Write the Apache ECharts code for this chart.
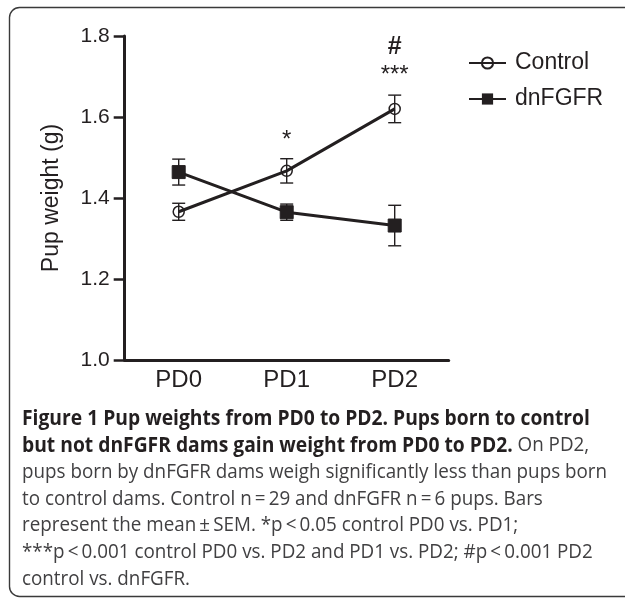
<!DOCTYPE html>
<html>
<head>
<meta charset="utf-8">
<script src="https://cdn.jsdelivr.net/npm/echarts@6/dist/echarts.min.js"></script>
<style>
html,body{margin:0;padding:0;background:#fff;}
#chart{width:625px;height:598px;}
</style>
</head>
<body>
<div id="chart"></div>
<script>
// ---- data ----
const categories = ['PD0', 'PD1', 'PD2'];
const controlMean = [1.366, 1.467, 1.620];
const controlSEM  = [0.021, 0.030, 0.034];
const dnMean      = [1.464, 1.365, 1.332];
const dnSEM       = [0.032, 0.020, 0.050];
const yTicks = [1.0, 1.2, 1.4, 1.6, 1.8];
// significance marks: [category, y position, text, bold]
const annotations = [
  ['PD1', 1.542, '*', false],
  ['PD2', 1.703, '***', false],
  ['PD2', 1.773, '#', true]
];
const captionLines = [
  [['b', 'Figure 1 Pup weights from PD0 to PD2. Pups born to control']],
  [['b', 'but not dnFGFR dams gain weight from PD0 to PD2.'], ['r', ' On PD2,']],
  [['r', 'pups born by dnFGFR dams weigh significantly less than pups born']],
  [['r', 'to control dams. Control n\u2009=\u200929 and dnFGFR n\u2009=\u20096 pups. Bars']],
  [['r', 'represent the mean\u2009\u00b1\u2009SEM. *p\u2009<\u20090.05 control PD0 vs. PD1;']],
  [['r', '***p\u2009<\u20090.001 control PD0 vs. PD2 and PD1 vs. PD2; #p\u2009<\u20090.001 PD2']],
  [['r', 'control vs. dnFGFR.']]
];

const INK = '#231f20';
const FONT = '"Liberation Sans", Arial, Helvetica, sans-serif';
const CAP_FONT = '"Open Sans", sans-serif';
const CAP_SIZE = 20;
const CAP_BOLD_SIZE = 20.5;

function errData(mean, sem) {
  return mean.map((m, i) => [i, m - sem[i], m + sem[i]]);
}
function errSeries(mean, sem) {
  return {
    type: 'custom',
    silent: true,
    z: 1,
    data: errData(mean, sem),
    renderItem: function (params, api) {
      const lo = api.coord([api.value(0), api.value(1)]);
      const hi = api.coord([api.value(0), api.value(2)]);
      const hw = 6.5;
      const st = { stroke: INK, lineWidth: 1.4 };
      return {
        type: 'group',
        children: [
          { type: 'line', shape: { x1: lo[0], y1: lo[1], x2: hi[0], y2: hi[1] }, style: st },
          { type: 'line', shape: { x1: lo[0] - hw, y1: lo[1], x2: lo[0] + hw, y2: lo[1] }, style: st },
          { type: 'line', shape: { x1: hi[0] - hw, y1: hi[1], x2: hi[0] + hw, y2: hi[1] }, style: st }
        ]
      };
    }
  };
}

// caption scaling to mimic the condensed journal font
const cv = document.createElement('canvas').getContext('2d');
cv.font = CAP_SIZE + 'px ' + CAP_FONT;
const refW = cv.measureText(captionLines[2][0][1]).width;
const capScale = 585 / refW;

const captionGraphics = captionLines.map((parts, i) => ({
  type: 'text',
  x: 0,
  y: 419 + i * 26.67,
  style: {
    text: parts.map(p => '{' + p[0] + '|' + p[1] + '}').join(''),
    verticalAlign: 'middle',
    rich: {
      b: { fontFamily: CAP_FONT, fontSize: CAP_BOLD_SIZE, fontWeight: 'bold', fill: INK },
      r: { fontFamily: CAP_FONT, fontSize: CAP_SIZE, fill: '#414042' }
    }
  }
}));

const chart = echarts.init(document.getElementById('chart'), null, { renderer: 'canvas' });
chart.setOption({
  backgroundColor: '#fff',
  animation: false,
  grid: { left: 124.7, right: 176.3, top: 36, bottom: 238, containLabel: false },
  xAxis: {
    type: 'category',
    data: categories,
    boundaryGap: true,
    axisLine: { lineStyle: { color: INK, width: 3 } },
    axisTick: { show: false },
    axisLabel: { color: INK, fontSize: 24, fontFamily: FONT, margin: 8 }
  },
  yAxis: {
    type: 'value',
    min: yTicks[0],
    max: yTicks[yTicks.length - 1],
    interval: 0.2,
    name: 'Pup weight (g)',
    nameLocation: 'middle',
    nameGap: 62,
    nameTextStyle: { color: INK, fontSize: 23, fontFamily: FONT },
    axisLine: { show: true, lineStyle: { color: INK, width: 3 } },
    axisTick: { show: true, length: 11, lineStyle: { color: INK, width: 2.5 } },
    axisLabel: { color: INK, fontSize: 21, fontFamily: FONT, margin: 15, formatter: v => v.toFixed(1) },
    splitLine: { show: false }
  },
  legend: {
    orient: 'vertical',
    left: 463,
    top: 45,
    itemWidth: 37,
    itemHeight: 14,
    itemGap: 10,
    textStyle: { color: INK, fontSize: 23, fontFamily: FONT, lineHeight: 26, padding: [0, 0, 0, 4] },
    data: ['Control', 'dnFGFR']
  },
  series: [
    errSeries(controlMean, controlSEM),
    errSeries(dnMean, dnSEM),
    {
      name: 'Control',
      type: 'line',
      z: 3,
      data: controlMean,
      symbol: 'circle',
      symbolSize: 11,
      lineStyle: { color: INK, width: 3 },
      itemStyle: { color: 'rgba(255,255,255,0)', borderColor: INK, borderWidth: 1.5 },
      markPoint: {
        symbol: 'circle',
        symbolSize: 1,
        itemStyle: { color: 'rgba(0,0,0,0)' },
        data: annotations.map(a => ({
          coord: [a[0], a[1]],
          label: {
            show: true, position: 'inside', formatter: a[2], color: INK,
            fontFamily: FONT, fontSize: a[3] ? 25 : 24, fontWeight: a[3] ? 'bold' : 'normal'
          }
        }))
      }
    },
    {
      name: 'dnFGFR',
      type: 'line',
      z: 3,
      data: dnMean,
      symbol: 'rect',
      symbolSize: 13,
      lineStyle: { color: INK, width: 3 },
      itemStyle: { color: INK, borderColor: INK }
    }
  ],
  graphic: [
    {
      type: 'rect',
      silent: true,
      shape: { x: 9.5, y: 7.5, width: 640, height: 589, r: 10 },
      style: { fill: 'none', stroke: '#3a3a3a', lineWidth: 1.4 }
    },
    {
      type: 'group',
      x: 22,
      y: 0,
      scaleX: capScale,
      children: captionGraphics
    }
  ]
});
</script>
</body>
</html>
